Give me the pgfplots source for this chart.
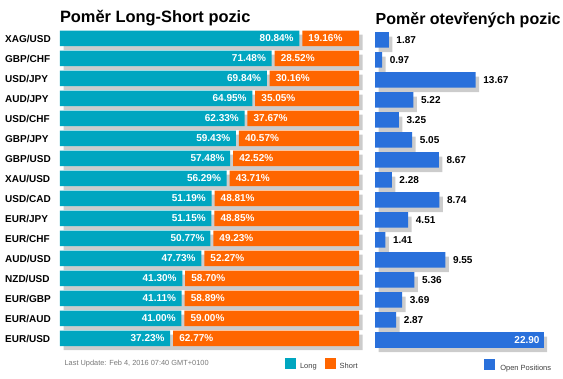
\documentclass[border=0pt]{standalone}
\usepackage{fontspec}
\setmainfont{Liberation Sans}
\usepackage{pgfplots}
\usepackage{pgfplotstable}
\pgfplotsset{compat=1.18}
\definecolor{teal1}{RGB}{0,166,192}
\definecolor{orange1}{RGB}{255,102,0}
\definecolor{blue1}{RGB}{41,112,219}
\definecolor{shadow}{RGB}{204,204,204}
\definecolor{foot}{RGB}{120,120,120}
\definecolor{legtext}{RGB}{64,64,64}

\pgfplotstableread{
idx pair L G S V
0 XAG/USD 80.84 1 19.16 1.87
1 GBP/CHF 71.48 1 28.52 0.97
2 USD/JPY 69.84 1 30.16 13.67
3 AUD/JPY 64.95 1 35.05 5.22
4 USD/CHF 62.33 1 37.67 3.25
5 GBP/JPY 59.43 1 40.57 5.05
6 GBP/USD 57.48 1 42.52 8.67
7 XAU/USD 56.29 1 43.71 2.28
8 USD/CAD 51.19 1 48.81 8.74
9 EUR/JPY 51.15 1 48.85 4.51
10 EUR/CHF 50.77 1 49.23 1.41
11 AUD/USD 47.73 1 52.27 9.55
12 NZD/USD 41.30 1 58.70 5.36
13 EUR/GBP 41.11 1 58.89 3.69
14 EUR/AUD 41.00 1 59.00 2.87
15 EUR/USD 37.23 1 62.77 22.90
}\data

\newcommand{\lblfont}{\bfseries\fontsize{10}{12}\selectfont}
\pgfplotsset{
  base/.style={scale only axis, anchor=south west, height=320pt,
    ymin=-0.5, ymax=15.5, y dir=reverse, enlargelimits=false,
    axis line style={draw=none}, major tick length=0pt,
    xtick=\empty, ytick=\empty, clip=false},
  sqlegend/.style={
    legend image code/.code={\fill[##1] (0pt,-2pt) rectangle (11pt,9pt);},
    legend style={draw=none, fill=none, inner sep=0pt, outer sep=0pt,
      anchor=west, font=\fontsize{7.5}{9}\selectfont, text=legtext,
      nodes={inner sep=0pt}},
    legend cell align=left},
}

\begin{document}
\begin{tikzpicture}
\useasboundingbox (0pt,0pt) rectangle (563pt,379pt);

% left shadow
\begin{axis}[base, at={(63.5pt,26.5pt)}, width=299pt, xmin=0, xmax=101,
  xbar, bar width=15.5pt]
\addplot[fill=shadow, draw=none, bar shift=0pt] table[x expr=\thisrow{L}+\thisrow{G}+\thisrow{S}, y=idx] {\data};
\end{axis}

% right shadow
\begin{axis}[base, at={(378.5pt,24.5pt)}, width=168.7pt, xmin=0, xmax=22.9,
  xbar, bar width=15.5pt]
\addplot[fill=shadow, draw=none, bar shift=0pt] table[x=V, y=idx] {\data};
\end{axis}

% left main
\begin{axis}[base, at={(60pt,30.5pt)}, width=299pt, xmin=0, xmax=101,
  xbar stacked, bar width=15.5pt,
  ytick={0,...,15}, yticklabels from table={\data}{pair},
  yticklabel style={anchor=west, inner sep=0pt, xshift=-55pt, font=\lblfont}]
\addplot[fill=teal1, draw=none] table[x=L, y=idx] {\data};
\addplot[fill=none, draw=none] table[x=G, y=idx] {\data};
\addplot[fill=orange1, draw=none] table[x=S, y=idx] {\data};
\end{axis}

% left value labels + legend
\begin{axis}[base, at={(60pt,30.5pt)}, width=299pt, xmin=0, xmax=101, sqlegend,
  legend columns=2,
  legend style={at={(axis description cs:0.7525,0)}, yshift=-15.7pt,
    /tikz/every odd column/.append style={column sep=4pt},
    /tikz/every even column/.append style={column sep=8pt}}]
\addlegendimage{fill=teal1, draw=none}
\addlegendentry{Long}
\addlegendimage{fill=orange1, draw=none}
\addlegendentry{Short}
\addplot[forget plot, draw=none, mark=none, nodes near coords={\pgfplotspointmeta\%},
  point meta=explicit symbolic,
  every node near coord/.append style={anchor=east, xshift=-5.5pt, inner sep=0pt, text=white, font=\lblfont}]
  table[x=L, y=idx, meta=L] {\data};
\addplot[forget plot, draw=none, mark=none, nodes near coords={\pgfplotspointmeta\%},
  point meta=explicit symbolic,
  every node near coord/.append style={anchor=west, xshift=6pt, inner sep=0pt, text=white, font=\lblfont}]
  table[x expr=\thisrow{L}+\thisrow{G}, y=idx, meta=S] {\data};
\end{axis}

% right main
\begin{axis}[base, at={(375pt,29pt)}, width=168.7pt, xmin=0, xmax=22.9,
  xbar, bar width=15.5pt, sqlegend,
  legend style={at={(axis description cs:0.648,0)}, yshift=-15.5pt,
    /tikz/every odd column/.append style={column sep=5pt}}]
\addlegendimage{fill=blue1, draw=none}
\addlegendentry{Open Positions}
\addplot[forget plot, fill=blue1, draw=none, bar shift=0pt,
  skip coords between index={15}{16},
  nodes near coords, point meta=explicit symbolic,
  every node near coord/.append style={anchor=west, xshift=7.5pt, inner sep=0pt, text=black, font=\lblfont}]
  table[x=V, y=idx, meta=V] {\data};
\addplot[forget plot, fill=blue1, draw=none, bar shift=0pt,
  skip coords between index={0}{15},
  nodes near coords, point meta=explicit symbolic,
  every node near coord/.append style={anchor=east, xshift=-4pt, inner sep=0pt, text=white, font=\lblfont}]
  table[x=V, y=idx, meta=V] {\data};
\end{axis}

% titles and footer
\node[anchor=base west, inner sep=0pt, font=\bfseries\fontsize{16.4}{19}\selectfont] at (59.8pt,356pt) {Poměr Long-Short pozic};
\node[anchor=base west, inner sep=0pt, font=\bfseries\fontsize{16}{19}\selectfont] at (375.5pt,354.7pt) {Poměr otevřených pozic};
\node[anchor=base west, inner sep=0pt, text=foot, font=\fontsize{7.4}{9}\selectfont] at (64.4pt,13.5pt) {Last Update: Feb 4, 2016 07:40 GMT+0100};
\end{tikzpicture}
\end{document}
